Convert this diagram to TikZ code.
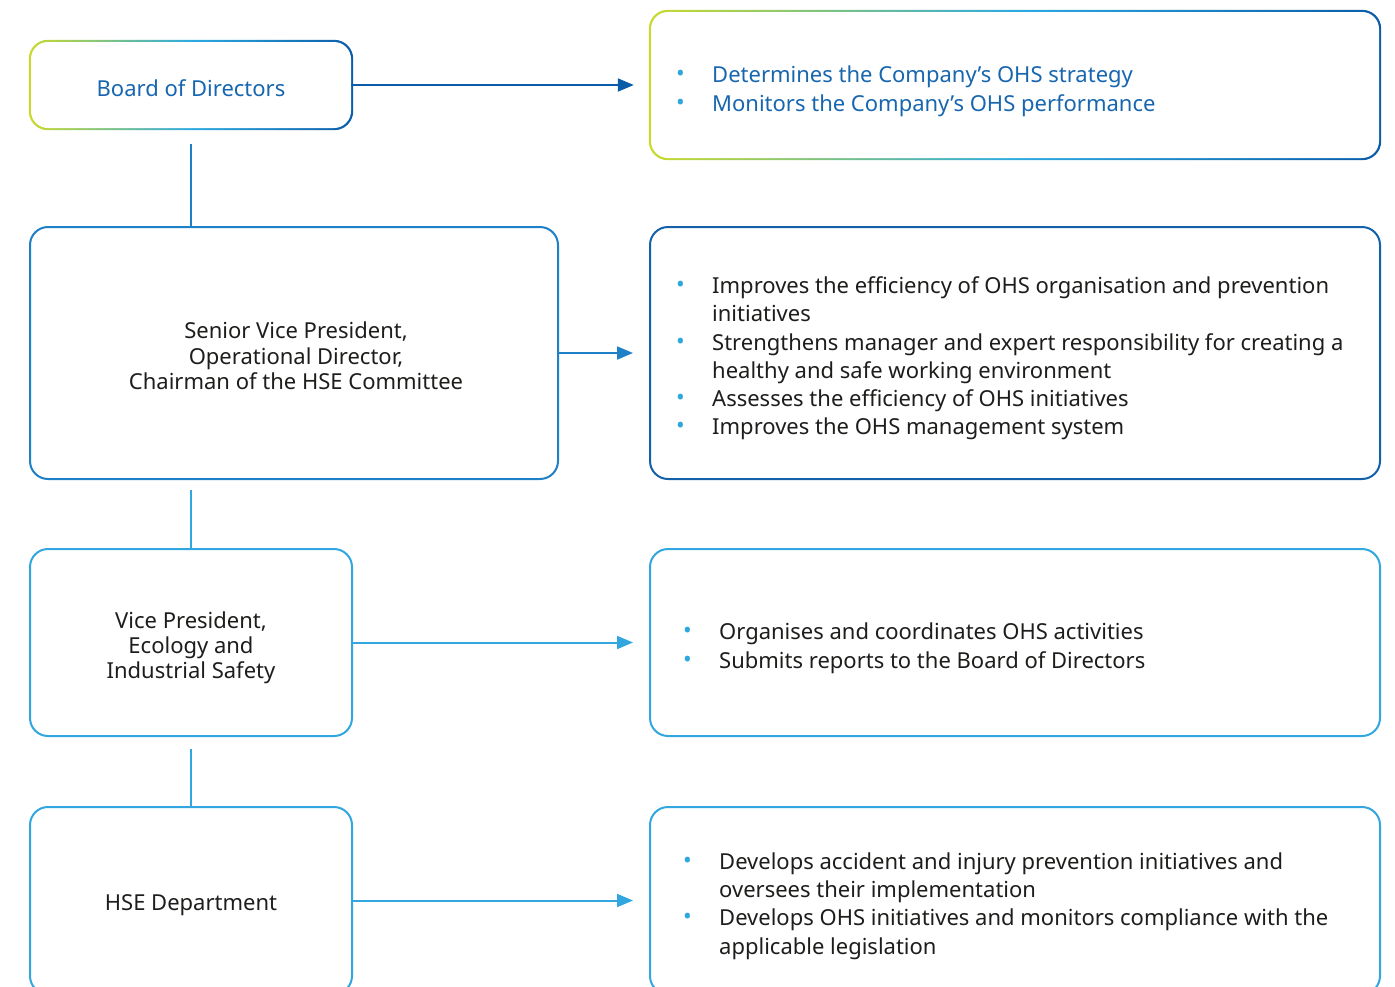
\documentclass[tikz,border=0pt]{standalone}
\usepackage{fontspec}
\setmainfont{Noto Sans}
\usetikzlibrary{arrows.meta,backgrounds}

\definecolor{gLime}{HTML}{C9DA2B}
\definecolor{gSky}{HTML}{2EAAE0}
\definecolor{gNavy}{HTML}{0B5CA8}
\definecolor{midBlue}{HTML}{1E80C6}
\definecolor{deepBlue}{HTML}{1461AA}
\definecolor{lightBlue}{HTML}{32A7DF}
\definecolor{titleBlue}{HTML}{1766AF}
\definecolor{bodyText}{HTML}{1D1D1B}
\definecolor{dotBlue}{HTML}{2EA6DE}

% bullet followed by the hanging indent of a list line
\newcommand{\blt}{\makebox[36pt][l]{\hspace{0pt}\textcolor{dotBlue}{\raisebox{0.1ex}{\scalebox{1.05}{•}}}}}
\newcommand{\cont}{\hspace*{36pt}}

\begin{document}
\begin{tikzpicture}[x=1pt,y=-1pt,
  txt/.style={font=\fontsize{22}{25.5}\selectfont, text=bodyText, inner sep=0pt},
  box/.style={draw, line width=2pt, rounded corners=18pt, fill=white, inner sep=0pt},
  gradbox/.style={draw=none, rounded corners=17pt, fill=white, inner sep=0pt},
  list/.style={anchor=west, align=left, inner sep=0pt, text=bodyText},
  link/.style={line width=2pt},
  arr/.style={line width=2pt, -{Triangle[length=16pt,width=13pt]}}
]
\clip (0,0) rectangle (1395,986);

% ---- left column ----
\node[gradbox, minimum width=320pt, minimum height=86pt] (b1) at (191,85) {};
\node[box, draw=midBlue, minimum width=528pt, minimum height=252pt] (b2) at (294,353) {};
\node[box, draw=lightBlue, minimum width=322pt, minimum height=187pt] (b3) at (191,642.5) {};
\node[box, draw=lightBlue, minimum width=322pt, minimum height=187pt] (b4) at (191,900.5) {};

\node[txt, text=titleBlue] (b1t) at ([yshift=-3pt]b1.center) {Board of Directors};
\node[txt, align=center] (b2t) at ([xshift=2pt,yshift=-3pt]b2.center)
  {Senior Vice President,\\Operational Director,\\Chairman of the HSE Committee};
\node[txt, align=center, font=\fontsize{22}{25}\selectfont] (b3t) at ([yshift=-5pt]b3.center)
  {Vice President,\\Ecology and\\Industrial Safety};
\node[txt] (b4t) at ([yshift=-4.5pt]b4.center) {HSE Department};

% ---- right column ----
\node[gradbox, minimum width=728pt, minimum height=146pt] (r1) at (1015,85) {};
\node[box, draw=deepBlue, minimum width=730pt, minimum height=252pt] (r2) at (1015,353) {};
\node[box, draw=lightBlue, minimum width=730pt, minimum height=187pt] (r3) at (1015,642.5) {};
\node[box, draw=lightBlue, minimum width=730pt, minimum height=187pt] (r4) at (1015,900.5) {};

% gradient outlines behind the white boxes
\begin{scope}[on background layer]
  \shade[left color=gLime, right color=gNavy, middle color=gSky, rounded corners=19pt]
    ([xshift=-2pt,yshift=2pt]b1.north west) rectangle ([xshift=2pt,yshift=-2pt]b1.south east);
  \shade[left color=gLime, right color=gNavy, middle color=gSky, rounded corners=19pt]
    ([xshift=-2pt,yshift=2pt]r1.north west) rectangle ([xshift=2pt,yshift=-2pt]r1.south east);
\end{scope}

% ---- responsibilities ----
\node[list, text=titleBlue, font=\fontsize{22}{29}\selectfont] (t1) at (676,91)
  {\blt Determines the Company’s OHS strategy\\
   \blt Monitors the Company’s OHS performance};
\node[list, font=\fontsize{22}{28.2}\selectfont] (t2) at (676,358.5)
  {\blt Improves the efficiency of OHS organisation and prevention\\
   \cont initiatives\\
   \blt Strengthens manager and expert responsibility for creating a\\
   \cont healthy and safe working environment\\
   \blt Assesses the efficiency of OHS initiatives\\
   \blt Improves the OHS management system};
\node[list, font=\fontsize{22}{29}\selectfont] (t3) at (683,648)
  {\blt Organises and coordinates OHS activities\\
   \blt Submits reports to the Board of Directors};
\node[list, font=\fontsize{22}{28.3}\selectfont] (t4) at (683,906)
  {\blt Develops accident and injury prevention initiatives and\\
   \cont oversees their implementation\\
   \blt Develops OHS initiatives and monitors compliance with the\\
   \cont applicable legislation};

% ---- connectors ----
\draw[link, draw=midBlue] ([yshift=-16pt]b1.south) -- (b1.south |- b2.north);
\draw[link, draw=lightBlue] ([yshift=-10pt]b2.south -| b3.north) -- (b3.north);
\draw[link, draw=lightBlue] ([yshift=-12pt]b3.south) -- (b4.north);

\draw[arr, draw=gNavy, fill=gNavy] (b1.east) -- ([xshift=-17pt]r1.west);
\draw[arr, draw=midBlue, fill=midBlue] (b2.east) -- ([xshift=-16pt]r2.west);
\draw[arr, draw=lightBlue, fill=lightBlue] (b3.east) -- ([xshift=-16pt]r3.west);
\draw[arr, draw=lightBlue, fill=lightBlue] (b4.east) -- ([xshift=-16pt]r4.west);
\end{tikzpicture}
\end{document}
